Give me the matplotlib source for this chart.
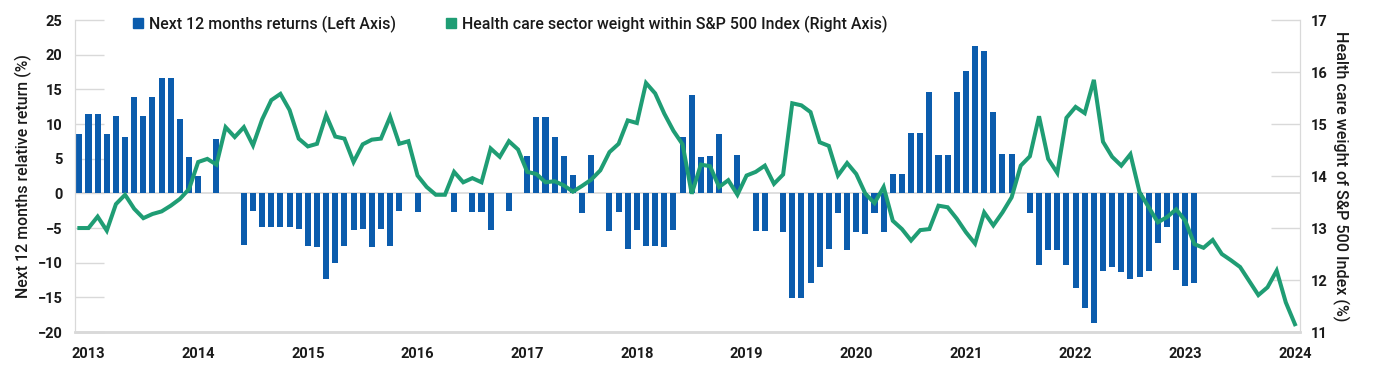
import numpy as np
import matplotlib
matplotlib.use("Agg")
import matplotlib.pyplot as plt
from matplotlib.lines import Line2D

plt.rcParams['font.family'] = ['Roboto', 'DejaVu Sans']

# next 12 months relative return (%), monthly, left axis
returns = [
    8.5, 11.4, 11.4, 8.5, 11.1, 8.1, 13.9, 11.1, 13.9, 16.6, 16.6, 10.8,
    5.3, 2.5, 0, 7.8, 0, 0, -7.4, -2.5, -4.9, -4.8, -4.8, -4.9,
    -5.1, -7.6, -7.8, -12.3, -10.1, -7.6, -5.3, -5.1, -7.7, -5.1, -7.6, -2.6,
    0, -2.7, 0, 0, 0, -2.7, 0, -2.7, -2.7, -5.3, 0, -2.6,
    0, 5.4, 11.0, 11.0, 8.2, 5.4, 2.7, -2.8, 5.6, 0, -5.4, -2.7,
    -8.0, -5.3, -7.6, -7.6, -7.8, -5.3, 8.1, 14.2, 5.3, 5.4, 8.5, 0,
    5.6, 0, -5.4, -5.4, 0, -5.6, -15.1, -15.1, -12.9, -10.6, -8.0, -2.8,
    -8.2, -5.6, -5.8, -2.9, -5.6, 2.8, 2.8, 8.75, 8.75, 14.6, 5.6, 5.6,
    14.6, 17.6, 21.2, 20.5, 11.7, 5.7, 5.7, 0, -2.8, -10.3, -8.2, -8.2,
    -10.3, -13.6, -16.6, -18.75, -11.2, -10.6, -11.4, -12.3, -12.0, -11.2, -7.2, -4.8,
    -11.1, -13.4, -12.9,
]

# health care weight within S&P 500 (%), monthly, right axis
hc_weight = [
    13.0, 13.0, 13.22, 12.95, 13.46, 13.64, 13.37, 13.19, 13.27, 13.32, 13.43, 13.56,
    13.75, 14.27, 14.33, 14.22, 14.94, 14.75, 14.94, 14.59, 15.09, 15.46, 15.58, 15.27,
    14.72, 14.57, 14.62, 15.17, 14.76, 14.72, 14.27, 14.61, 14.70, 14.72, 15.14, 14.62,
    14.67, 14.01, 13.79, 13.64, 13.64, 14.08, 13.88, 13.96, 13.88, 14.53, 14.37, 14.67,
    14.51, 14.08, 14.04, 13.88, 13.90, 13.82, 13.70, 13.81, 13.93, 14.11, 14.46, 14.62,
    15.07, 15.02, 15.79, 15.59, 15.20, 14.87, 14.61, 13.66, 14.22, 14.19, 13.79, 13.92,
    13.64, 14.01, 14.08, 14.20, 13.85, 14.03, 15.40, 15.36, 15.23, 14.65, 14.58, 14.01,
    14.25, 14.04, 13.66, 13.48, 13.79, 13.14, 12.98, 12.76, 12.96, 12.98, 13.43, 13.40,
    13.18, 12.92, 12.70, 13.30, 13.05, 13.30, 13.59, 14.20, 14.38, 15.15, 14.33, 14.06,
    15.12, 15.33, 15.21, 15.85, 14.66, 14.37, 14.20, 14.42, 13.69, 13.40, 13.11, 13.21,
    13.36, 13.14, 12.69, 12.62, 12.77, 12.50, 12.38, 12.25, 11.98, 11.71, 11.86, 12.18,
    11.57, 11.15,
]

years = [str(y) for y in range(2013, 2025)]

BAR_COLOR = "#0b5cad"
LINE_COLOR = "#1f9d74"
GRID = "#d9d9d9"
TXT = "#1a1a1a"

fig = plt.figure(figsize=(13.85, 3.72), dpi=100)
ax = fig.add_axes([0.0542, 0.1075, 0.8844, 0.8385])
ax2 = ax.twinx()

x_bar = np.arange(len(returns))
x_line = np.arange(len(hc_weight))

ax.axhline(0, color=GRID, lw=1.2, zorder=1)
ax.bar(x_bar, returns, width=0.66, color=BAR_COLOR, zorder=2)
ax2.plot(x_line, hc_weight, color=LINE_COLOR, lw=2.9, solid_joinstyle="miter", zorder=3)

ax.set_xlim(-0.47, 133.55)
ax.set_ylim(-20, 25)
ax2.set_ylim(11, 17)

ax.set_yticks(np.arange(-20, 26, 5))
ax2.set_yticks(np.arange(11, 18, 1))
ax.set_xticks(np.arange(len(years)) * 12 + 1)
ax.set_xticklabels(years)

for a in (ax, ax2):
    for s in a.spines.values():
        s.set_color(GRID)
    a.spines['top'].set_visible(False)
    a.spines['bottom'].set_linewidth(1.8)

ax.tick_params(axis='y', direction='in', length=21, width=1, color=GRID, pad=9,
               labelsize=10.5, labelcolor=TXT)
ax2.tick_params(axis='y', direction='in', length=21, width=1, color=GRID, pad=8,
                labelsize=10.5, labelcolor=TXT)
ax.tick_params(axis='x', length=0, pad=11, labelsize=10.5, labelcolor=TXT)
for lab in ax.get_xticklabels() + ax.get_yticklabels() + ax2.get_yticklabels():
    lab.set_fontweight('semibold')

ax.set_ylabel("Next 12 months relative return (%)", fontsize=11.4, color=TXT,
              fontweight='medium', labelpad=4)
ax2.set_ylabel("Health care weight of S&P 500 Index (%)", fontsize=11.6, color=TXT,
               fontweight='medium', rotation=270, labelpad=15)

handles = [
    Line2D([], [], marker='s', color=BAR_COLOR, lw=0, markersize=7),
    Line2D([], [], marker='s', color=LINE_COLOR, lw=0, markersize=7),
]
labels = ["Next 12 months returns (Left Axis)",
          "Health care sector weight within S&P 500 Index (Right Axis)"]
leg = ax.legend(handles, labels, loc='upper left', bbox_to_anchor=(0.036, 1.06),
                ncol=2, frameon=False, handlelength=0.6, handletextpad=0.4,
                columnspacing=3.15, prop={'size': 11.4, 'weight': 'medium'})
for t in leg.get_texts():
    t.set_color(TXT)

fig.savefig("out.png", dpi=100)
